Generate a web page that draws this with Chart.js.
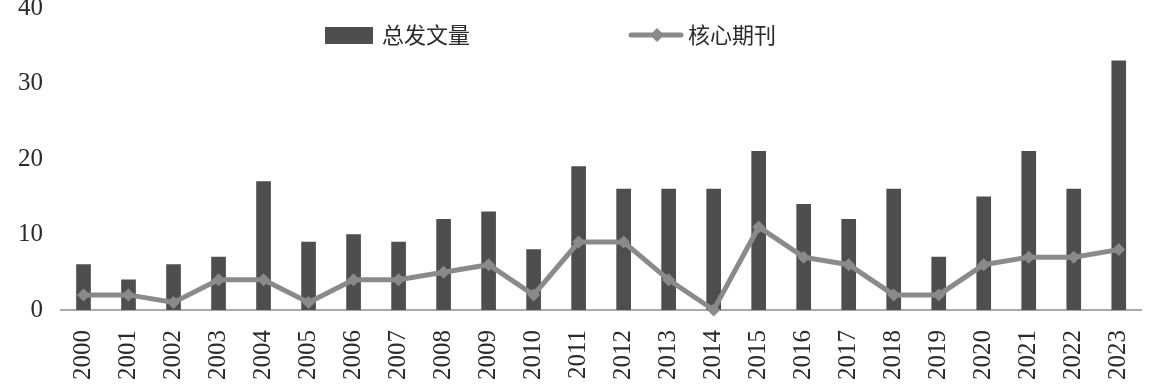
<!DOCTYPE html>
<html><head><meta charset="utf-8">
<script src="https://cdn.jsdelivr.net/npm/chart.js@4/dist/chart.umd.min.js"></script>
<style>
html,body{margin:0;padding:0;background:#fff;overflow:hidden;width:1152px;height:390px;}
#wrap{position:absolute;left:0;top:-25px;width:1169px;height:418px;}
</style></head><body>
<div id="wrap"><canvas id="c" width="1169" height="418"></canvas></div>
<script>
const years = ['2000','2001','2002','2003','2004','2005','2006','2007','2008','2009','2010','2011','2012','2013','2014','2015','2016','2017','2018','2019','2020','2021','2022','2023'];
const totalPapers = [6,4,6,7,17,9,10,9,12,13,8,19,16,16,16,21,14,12,16,7,15,21,16,33];
const corePapers = [2,2,1,4,4,1,4,4,5,6,2,9,9,4,0,11,7,6,2,2,6,7,7,8];
const seriesNames = ['总发文量','核心期刊'];
const yTicks = [0,10,20,30,40];

const barColor = '#4e4e4e';
const lineColor = '#8a8a8a';
const serif = "'Liberation Serif','DejaVu Serif',serif";
const cjk = "'Noto Sans CJK SC','Noto Sans CJK JP',sans-serif";

const legendPlugin = {
  id:'customLegend',
  afterDraw(chart){
    const ctx = chart.ctx;
    ctx.save();
    const cy = 35 + 25;
    ctx.fillStyle = barColor;
    ctx.fillRect(325, cy-8, 48, 17);
    ctx.fillStyle = '#2a2a2a';
    ctx.font = "22px " + cjk;
    ctx.textBaseline = 'middle';
    ctx.textAlign = 'left';
    ctx.fillText(seriesNames[0], 382, cy);
    ctx.strokeStyle = lineColor;
    ctx.lineWidth = 5;
    ctx.lineCap = 'round';
    ctx.beginPath(); ctx.moveTo(631, cy); ctx.lineTo(681, cy); ctx.stroke();
    ctx.fillStyle = lineColor;
    ctx.beginPath();
    ctx.moveTo(657, cy-7); ctx.lineTo(664, cy); ctx.lineTo(657, cy+7); ctx.lineTo(650, cy); ctx.closePath(); ctx.fill();
    ctx.fillStyle = '#2a2a2a';
    ctx.fillText(seriesNames[1], 688, cy);
    ctx.restore();
  }
};

new Chart(document.getElementById('c'), {
  data:{
    labels: years,
    datasets:[
      {type:'line', label:seriesNames[1], data:corePapers, borderColor:lineColor, backgroundColor:lineColor,
       borderWidth:5, pointStyle:'rectRot', pointRadius:6.5, pointBorderWidth:0, pointBackgroundColor:lineColor,
       tension:0, order:0, clip:false},
      {type:'bar', label:seriesNames[0], data:totalPapers, backgroundColor:barColor, barThickness:14, order:1}
    ]
  },
  options:{
    responsive:false,
    animation:false,
    layout:{padding:{top:0,right:11,left:0,bottom:0}},
    plugins:{legend:{display:false}, tooltip:{enabled:false}},
    scales:{
      x:{
        grid:{display:false, drawTicks:false},
        border:{display:true, color:'#aaaaaa', width:2},
        ticks:{font:{family:serif,size:25}, color:'#2a2a2a', minRotation:90, maxRotation:90, padding:20, autoSkip:false},
        afterFit(scale){ scale.height = 83; }
      },
      y:{
        min:0, max:40,
        afterBuildTicks(scale){ scale.ticks = yTicks.map(v=>({value:v})); },
        grid:{display:false, drawTicks:false},
        border:{display:false},
        ticks:{font:{family:serif,size:25}, color:'#2a2a2a', padding:18},
        afterFit(scale){ scale.width = 61; }
      }
    }
  },
  plugins:[legendPlugin]
});
</script>
</body></html>
